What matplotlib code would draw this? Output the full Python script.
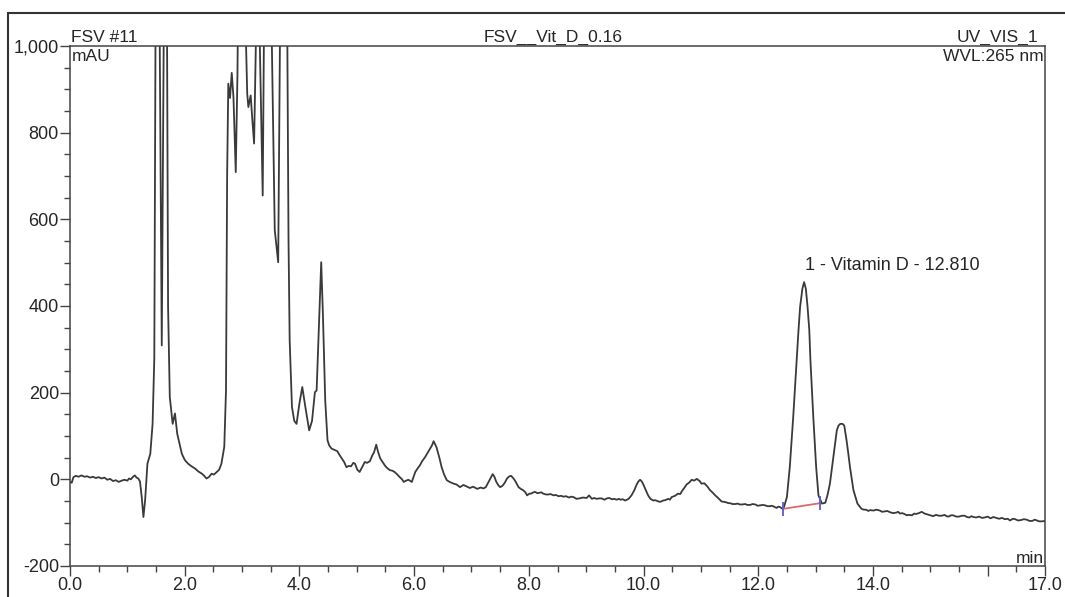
import matplotlib.pyplot as plt
from matplotlib.patches import Rectangle
from matplotlib.ticker import MultipleLocator

plt.rcParams['font.family'] = ['Liberation Sans', 'DejaVu Sans']

# retention time (min) and detector signal (mAU)
rt = [0.00, 0.03, 0.06, 0.10, 0.15, 0.20, 0.25, 0.30, 0.35, 0.40, 0.45, 0.50,
      0.55, 0.60, 0.65, 0.70, 0.75, 0.80, 0.85, 0.90, 0.95, 1.00, 1.03, 1.06,
      1.10, 1.13, 1.16, 1.19, 1.22, 1.25, 1.28, 1.31, 1.35, 1.40, 1.44, 1.47,
      1.50, 1.55, 1.60, 1.65, 1.69, 1.71, 1.74, 1.79, 1.83, 1.87, 1.95, 2.00,
      2.06, 2.12, 2.18, 2.24, 2.30, 2.34, 2.38, 2.42, 2.47, 2.51, 2.56, 2.60,
      2.64, 2.69, 2.72, 2.74, 2.76, 2.79, 2.82, 2.85, 2.89, 2.92, 2.95, 3.03,
      3.07, 3.09, 3.11, 3.15, 3.18, 3.21, 3.24, 3.27, 3.31, 3.36, 3.38, 3.45,
      3.52, 3.57, 3.63, 3.66, 3.72, 3.79, 3.81, 3.83, 3.87, 3.91, 3.95, 4.00,
      4.05, 4.10, 4.17, 4.22, 4.27, 4.30, 4.34, 4.38, 4.41, 4.45, 4.49, 4.52,
      4.56, 4.61, 4.66, 4.70, 4.74, 4.78, 4.82, 4.86, 4.90, 4.94, 4.97, 5.01,
      5.05, 5.10, 5.14, 5.18, 5.23, 5.27, 5.30, 5.34, 5.37, 5.41, 5.45, 5.49,
      5.53, 5.58, 5.62, 5.66, 5.70, 5.75, 5.79, 5.82, 5.86, 5.90, 5.96, 6.02,
      6.06, 6.10, 6.14, 6.19, 6.23, 6.28, 6.31, 6.34, 6.39, 6.44, 6.48, 6.52,
      6.57, 6.62, 6.69, 6.74, 6.80, 6.86, 6.91, 6.97, 7.03, 7.10, 7.16, 7.21,
      7.25, 7.29, 7.33, 7.37, 7.40, 7.43, 7.47, 7.50, 7.54, 7.58, 7.62, 7.66,
      7.69, 7.72, 7.75, 7.78, 7.82, 7.86, 7.90, 7.94, 7.97, 8.01, 8.04, 8.08,
      8.11, 8.15, 8.18, 8.22, 8.25, 8.30, 8.34, 8.38, 8.43, 8.47, 8.52, 8.56,
      8.60, 8.65, 8.70, 8.74, 8.78, 8.83, 8.88, 8.94, 9.01, 9.05, 9.10, 9.14,
      9.18, 9.23, 9.27, 9.32, 9.36, 9.40, 9.45, 9.49, 9.53, 9.57, 9.60, 9.64,
      9.68, 9.74, 9.79, 9.84, 9.88, 9.91, 9.94, 9.97, 9.99, 10.03, 10.08,
      10.12, 10.17, 10.20, 10.24, 10.28, 10.31, 10.34, 10.38, 10.43, 10.46,
      10.49, 10.55, 10.60, 10.64, 10.67, 10.71, 10.75, 10.80, 10.84, 10.88,
      10.93, 10.98, 11.01, 11.06, 11.11, 11.16, 11.20, 11.25, 11.30, 11.36,
      11.40, 11.44, 11.48, 11.51, 11.55, 11.60, 11.64, 11.68, 11.72, 11.77,
      11.81, 11.86, 11.90, 11.95, 11.99, 12.03, 12.08, 12.12, 12.16, 12.20,
      12.23, 12.26, 12.29, 12.32, 12.35, 12.38, 12.41, 12.44, 12.50, 12.55,
      12.61, 12.67, 12.70, 12.73, 12.77, 12.80, 12.83, 12.86, 12.89, 12.91,
      12.96, 13.01, 13.05, 13.11, 13.17, 13.21, 13.25, 13.31, 13.37, 13.40,
      13.43, 13.47, 13.50, 13.54, 13.57, 13.60, 13.66, 13.73, 13.80, 13.84,
      13.88, 13.92, 13.95, 14.01, 14.06, 14.12, 14.16, 14.20, 14.25, 14.30,
      14.35, 14.40, 14.44, 14.47, 14.51, 14.55, 14.59, 14.62, 14.68, 14.72,
      14.75, 14.80, 14.85, 14.90, 14.95, 15.00, 15.05, 15.10, 15.15, 15.20,
      15.25, 15.28, 15.32, 15.36, 15.40, 15.45, 15.50, 15.55, 15.60, 15.64,
      15.68, 15.72, 15.75, 15.80, 15.85, 15.90, 15.95, 16.00, 16.05, 16.10,
      16.15, 16.20, 16.25, 16.30, 16.35, 16.39, 16.44, 16.48, 16.53, 16.58,
      16.63, 16.68, 16.73, 16.78, 16.82, 16.86, 16.90, 16.94, 17.00]
mau = [-5, -8, 5, 8, 6, 9, 6, 7, 4, 6, 3, 5,
       2, 4, -1, 1, -4, -2, -6, -3, -1, -3, 2, 0,
       6, 9, 4, 2, -5, -40, -87, -48, 36, 59, 128, 280,
       1350, 1300, 309, 1350, 1100, 398, 190, 128, 152, 105, 59, 45,
       36, 30, 25, 18, 13, 8, 2, 5, 13, 11, 17, 22,
       36, 75, 205, 705, 913, 880, 938, 882, 709, 936, 1400, 1400,
       1000, 890, 859, 886, 828, 775, 1000, 1400, 1000, 655, 1000, 1400,
       1000, 575, 501, 1000, 1400, 1000, 552, 321, 167, 135, 128, 175,
       213, 170, 113, 135, 201, 205, 350, 501, 380, 182, 90, 78,
       71, 68, 65, 56, 48, 40, 28, 31, 30, 38, 36, 22,
       17, 30, 40, 38, 42, 55, 62, 80, 64, 48, 40, 32,
       26, 21, 20, 17, 12, 5, 0, -6, -3, -1, -6, 17,
       25, 32, 42, 51, 60, 71, 78, 88, 74, 50, 28, 12,
       -2, -6, -10, -12, -18, -13, -16, -20, -17, -22, -19, -21,
       -18, -8, 2, 12, 6, -5, -14, -18, -15, -8, 2, 7,
       8, 4, -1, -8, -18, -22, -25, -30, -37, -33, -33, -30,
       -29, -32, -31, -30, -33, -35, -35, -34, -37, -36, -39, -38,
       -40, -39, -42, -40, -41, -45, -44, -42, -43, -37, -45, -43,
       -45, -44, -44, -47, -44, -43, -46, -45, -47, -45, -47, -46,
       -49, -45, -37, -25, -12, -5, -1, -5, -10, -22, -37,
       -45, -49, -48, -50, -52, -51, -49, -48, -45, -47,
       -41, -38, -33, -34, -27, -20, -12, -7, -1, -3,
       1, -4, -10, -9, -16, -25, -30, -37, -43, -51,
       -52, -53, -55, -55, -57, -57, -56, -58, -58, -57,
       -59, -59, -57, -58, -61, -60, -59, -60, -62, -62,
       -61, -62, -64, -66, -63, -64, -67, -68, -41, 28,
       144, 275, 340, 398, 440, 455, 440, 398, 345, 275,
       144, 28, -37, -56, -54, -35, -10, 51, 113, 124,
       128, 128, 124, 90, 60, 28, -25, -56, -68, -70,
       -70, -73, -71, -72, -70, -72, -75, -74, -73, -76,
       -78, -77, -75, -79, -78, -80, -83, -82, -83, -79,
       -80, -78, -75, -79, -81, -83, -85, -82, -84, -84,
       -82, -85, -86, -83, -83, -86, -86, -84, -84, -87,
       -88, -85, -87, -88, -86, -89, -88, -86, -90, -87,
       -89, -91, -89, -92, -91, -95, -91, -92, -95, -94,
       -92, -93, -96, -96, -93, -95, -97, -97, -96]

# integration baseline of the Vitamin D peak
base_rt = [12.44, 13.08]
base_mau = [-68, -55]
peak_label = '1 - Vitamin D - 12.810'
peak_rt = 12.81

x_major = [0, 2, 4, 6, 8, 10, 12, 14, 16, 17]
x_labels = ['0.0', '2.0', '4.0', '6.0', '8.0', '10.0', '12.0', '14.0', '', '17.0']
y_major = [-200, 0, 200, 400, 600, 800, 1000]
y_labels = ['-200', '0', '200', '400', '600', '800', '1,000']

ink = '#262626'

fig = plt.figure(figsize=(10.65, 5.97), dpi=100)
ax = fig.add_axes([70 / 1065, 1 - 566 / 597, 975 / 1065, 520 / 597])

ax.plot(rt, mau, color='#3a3a3a', lw=1.3)
ax.plot(base_rt, base_mau, color='#e06a6a', lw=1.3)
ax.plot(base_rt, base_mau, ls='none', marker='|', ms=10, mew=1.3,
        color='#5a5ad0')

ax.set_xlim(0, 17)
ax.set_ylim(-200, 1000)
ax.set_xticks(x_major)
ax.set_xticklabels(x_labels)
ax.set_yticks(y_major)
ax.set_yticklabels(y_labels)
ax.xaxis.set_minor_locator(MultipleLocator(0.5))
ax.yaxis.set_minor_locator(MultipleLocator(50))
ax.tick_params(which='major', length=7, width=1, color='#444444',
               labelsize=13, labelcolor=ink, pad=1)
ax.tick_params(which='minor', length=4, width=1, color='#444444')
for s in ax.spines.values():
    s.set_color('#444444')
    s.set_linewidth(1.1)

fs = 12.5
ax.annotate('FSV #11', xy=(0, 1), xycoords='axes fraction', xytext=(1, 0.5),
            textcoords='offset points', ha='left', va='bottom', fontsize=fs, color=ink)
ax.annotate('FSV__Vit_D_0.16', xy=(0.5, 1), xycoords='axes fraction', xytext=(-3, 0.5),
            textcoords='offset points', ha='center', va='bottom', fontsize=fs, color=ink)
ax.annotate('UV_VIS_1', xy=(1, 1), xycoords='axes fraction', xytext=(-5, 0.5),
            textcoords='offset points', ha='right', va='bottom', fontsize=fs, color=ink)
ax.annotate('mAU', xy=(0, 1), xycoords='axes fraction', xytext=(1, -2),
            textcoords='offset points', ha='left', va='top', fontsize=fs, color=ink)
ax.annotate('WVL:265 nm', xy=(1, 1), xycoords='axes fraction', xytext=(-1, -2),
            textcoords='offset points', ha='right', va='top', fontsize=fs, color=ink)
ax.annotate('min', xy=(1, 0), xycoords='axes fraction', xytext=(-1, 0),
            textcoords='offset points', ha='right', va='bottom', fontsize=fs, color=ink)

ax.text(peak_rt, 494, peak_label, ha='left', va='center', fontsize=13, color=ink)

# outer report frame
fig.add_artist(Rectangle((8 / 1065, -0.1), 1.2, 1 - 13 / 597 + 0.1,
                         transform=fig.transFigure, fill=False,
                         ec='#333333', lw=1.5))

fig.savefig('out.png', dpi=100)
